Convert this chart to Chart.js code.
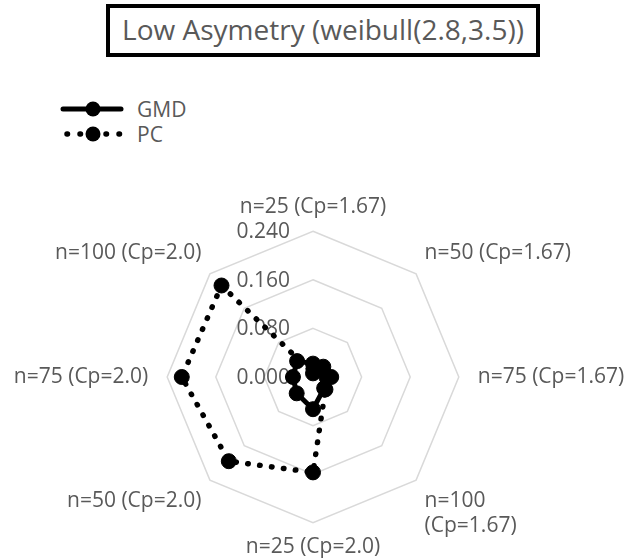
<!DOCTYPE html>
<html lang="en">
<head>
  <meta charset="UTF-8" />
  <title>Low Asymetry</title>
  <style>
    html, body { margin: 0; padding: 0; background: #fff; }
    body { width: 639px; height: 558px; position: relative; overflow: hidden; font-family: 'Open Sans', sans-serif; }
    .title_box {
      position: absolute; left: 106px; top: 4px; width: 434px; height: 53px;
      box-sizing: border-box; border: 4px solid #000;
      color: #595959; font-size: 28px; line-height: 43px; text-align: center;
    }
    .legend { position: absolute; left: 60px; top: 96px; color: #595959; font-size: 21px; }
    .legend_row { height: 25px; display: flex; align-items: center; }
    .legend_row svg { margin-right: 13px; }
    #chartWrap { position: absolute; left: 0; top: 3px; width: 639px; height: 558px; }
  </style>
</head>
<body>
  <div class="title_box">Low Asymetry (weibull(2.8,3.5))</div>
  <div class="legend">
    <div class="legend_row">
      <svg width="64" height="20"><line x1="3" y1="10" x2="61" y2="10" stroke="#000" stroke-width="5" stroke-linecap="round"/><circle cx="33" cy="10" r="7.5" fill="#000"/></svg>
      <span>GMD</span>
    </div>
    <div class="legend_row">
      <svg width="64" height="20"><line x1="7" y1="10" x2="61" y2="10" stroke="#000" stroke-width="5.5" stroke-linecap="round" stroke-dasharray="0.5 12.5"/><circle cx="33" cy="10" r="7.5" fill="#000"/></svg>
      <span>PC</span>
    </div>
  </div>
  <div id="chartWrap"><canvas id="radar" width="639" height="558"></canvas></div>

  <script src="https://cdn.jsdelivr.net/npm/chart.js"></script>
  <script>
    const categories = [
      "n=25 (Cp=1.67)", "n=50 (Cp=1.67)", "n=75 (Cp=1.67)", ["n=100", "(Cp=1.67)"],
      "n=25 (Cp=2.0)", "n=50 (Cp=2.0)", "n=75 (Cp=2.0)", "n=100 (Cp=2.0)"
    ];
    const gmdValues = [0.022, 0.024, 0.030, 0.026, 0.053, 0.038, 0.033, 0.037];
    const pcValues = [0.006, 0.018, 0.022, 0.029, 0.157, 0.196, 0.216, 0.213];
    const tickMin = 0;
    const tickMax = 0.24;
    const tickStep = 0.08;

    Chart.defaults.font.family = "'Open Sans', sans-serif";
    Chart.defaults.color = "#595959";

    // tick labels sit left of the centre, under the data
    const tickLabels = {
      id: "tickLabels",
      beforeDatasetsDraw(chart) {
        const scale = chart.scales.r;
        const ctx = chart.ctx;
        ctx.save();
        ctx.font = "21px 'Open Sans', sans-serif";
        ctx.fillStyle = "#595959";
        ctx.textAlign = "right";
        ctx.textBaseline = "middle";
        scale.ticks.forEach(t => {
          const d = scale.getDistanceFromCenterForValue(t.value);
          ctx.fillText(t.value.toFixed(3), scale.xCenter - 23, scale.yCenter - d + 1);
        });
        ctx.restore();
      }
    };

    new Chart(document.getElementById("radar"), {
      type: "radar",
      data: {
        labels: categories,
        datasets: [
          {
            label: "PC",
            data: pcValues,
            borderColor: "#000",
            borderWidth: 5.5,
            borderDash: [0.5, 11.5],
            borderCapStyle: "round",
            backgroundColor: "transparent",
            fill: false,
            pointRadius: 7.5,
            pointBackgroundColor: "#000",
            pointBorderColor: "#000",
            pointBorderWidth: 1
          },
          {
            label: "GMD",
            data: gmdValues,
            borderColor: "#000",
            borderWidth: 5,
            backgroundColor: "transparent",
            fill: false,
            pointRadius: 7.5,
            pointBackgroundColor: "#000",
            pointBorderColor: "#000",
            pointBorderWidth: 1
          }
        ]
      },
      options: {
        responsive: false,
        animation: false,
        layout: { padding: { top: 192, left: 5, right: 5, bottom: 0 } },
        plugins: {
          legend: { display: false },
          tooltip: { enabled: false }
        },
        scales: {
          r: {
            min: tickMin,
            max: tickMax,
            ticks: { stepSize: tickStep, display: false },
            grid: { color: "#d9d9d9", lineWidth: 1.5 },
            angleLines: { display: false },
            pointLabels: {
              font: { size: 21 },
              color: "#595959",
              padding: ctx => (ctx.index === 2 || ctx.index === 6) ? 19 : 12
            }
          }
        }
      },
      plugins: [tickLabels]
    });
  </script>
</body>
</html>
